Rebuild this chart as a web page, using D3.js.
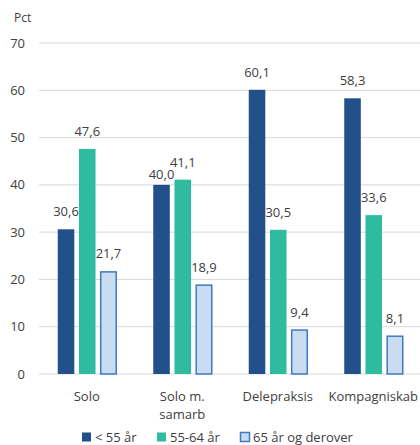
<!DOCTYPE html>
<html>
<head>
<meta charset="utf-8">
<script src="https://cdn.jsdelivr.net/npm/d3@7"></script>
<style>
body { margin: 0; background: #fff; }
text { font-family: "Open Sans", sans-serif; fill: #404040; }
</style>
</head>
<body>
<script>
// data
var categories = ["Solo", "Solo m.|samarb", "Delepraksis", "Kompagniskab"];
var seriesNames = ["< 55 år", "55-64 år", "65 år og derover"];
var under55 = [30.6, 40.0, 60.1, 58.3];
var age5564 = [47.6, 41.1, 30.5, 33.6];
var over65 = [21.7, 18.9, 9.4, 8.1];
var yTicks = [0, 10, 20, 30, 40, 50, 60, 70];

var series = [under55, age5564, over65];
var fills = ["#22508a", "#2fbba0", "#cadcf2"];
var strokes = ["none", "none", "#3d7cc2"];

var width = 420, height = 445;
var margin = {top: 43, right: -1, bottom: 71, left: 39};

var svg = d3.select("body").append("svg")
    .attr("width", width)
    .attr("height", height);

var x = d3.scaleBand()
    .domain(categories)
    .range([margin.left, width - margin.right]);

var xs = d3.scaleBand()
    .domain(d3.range(series.length))
    .range([x.bandwidth() / 2 - 29, x.bandwidth() / 2 + 30])
    .paddingInner(0.22);

var y = d3.scaleLinear()
    .domain([0, 70])
    .range([height - margin.bottom, margin.top]);

// gridlines
svg.append("g")
    .selectAll("line")
    .data(yTicks)
    .enter().append("line")
    .attr("x1", margin.left)
    .attr("x2", width)
    .attr("y1", function(d) { return y(d); })
    .attr("y2", function(d) { return y(d); })
    .attr("stroke", "#d9d9d9")
    .attr("stroke-width", 1);

// y tick labels
svg.append("g")
    .selectAll("text")
    .data(yTicks)
    .enter().append("text")
    .attr("x", 25)
    .attr("y", function(d) { return y(d); })
    .attr("dy", "0.35em")
    .attr("text-anchor", "end")
    .style("font-size", "13px")
    .text(function(d) { return d; });

svg.append("text")
    .attr("x", 14)
    .attr("y", 22)
    .style("font-size", "12px")
    .text("Pct");

// label position, pushed down when it would collide with the next series' label
function labelY(si, i) {
    var v = series[si][i];
    var base = y(v) - 13;
    if (si < series.length - 1) {
        var next = y(series[si + 1][i]) - 13;
        if (Math.abs(next - base) < 14) return y(v) - 6;
    }
    return base;
}

// bars
series.forEach(function(vals, si) {
    var g = svg.append("g");
    g.selectAll("rect")
        .data(vals)
        .enter().append("rect")
        .attr("x", function(d, i) { return x(categories[i]) + xs(si) + (si == 2 ? 0.5 : 0); })
        .attr("y", function(d) { return y(d) + (si == 2 ? 0.5 : 0); })
        .attr("width", xs.bandwidth() - (si == 2 ? 1 : 0))
        .attr("height", function(d) { return y(0) - y(d) - (si == 2 ? 0.5 : 0); })
        .attr("fill", fills[si])
        .attr("stroke", strokes[si])
        .attr("stroke-width", 1.5);

    g.selectAll("text")
        .data(vals)
        .enter().append("text")
        .attr("x", function(d, i) { return x(categories[i]) + xs(si) + xs.bandwidth() / 2; })
        .attr("y", function(d, i) { return labelY(si, i); })
        .attr("text-anchor", "middle")
        .style("font-size", "13px")
        .text(function(d) { return d.toFixed(1).replace(".", ","); });
});

// category labels
svg.append("g")
    .selectAll("text")
    .data(categories)
    .enter().append("text")
    .attr("text-anchor", "middle")
    .style("font-size", "13px")
    .each(function(d) {
        var lines = d.split("|");
        var t = d3.select(this);
        lines.forEach(function(l, i) {
            t.append("tspan")
                .attr("x", x(d) + x.bandwidth() / 2)
                .attr("y", 401 + i * 18)
                .text(l);
        });
    });

// legend
var legendX = [82, 157, 240];
var lg = svg.append("g");
seriesNames.forEach(function(name, i) {
    lg.append("rect")
        .attr("x", legendX[i] + (i == 2 ? 0.5 : 0))
        .attr("y", 432.5)
        .attr("width", 9)
        .attr("height", 9)
        .attr("fill", fills[i])
        .attr("stroke", strokes[i])
        .attr("stroke-width", 1.5);
    lg.append("text")
        .attr("x", legendX[i] + 13)
        .attr("y", 442)
        .style("font-size", "13px")
        .text(name);
});
</script>
</body>
</html>
